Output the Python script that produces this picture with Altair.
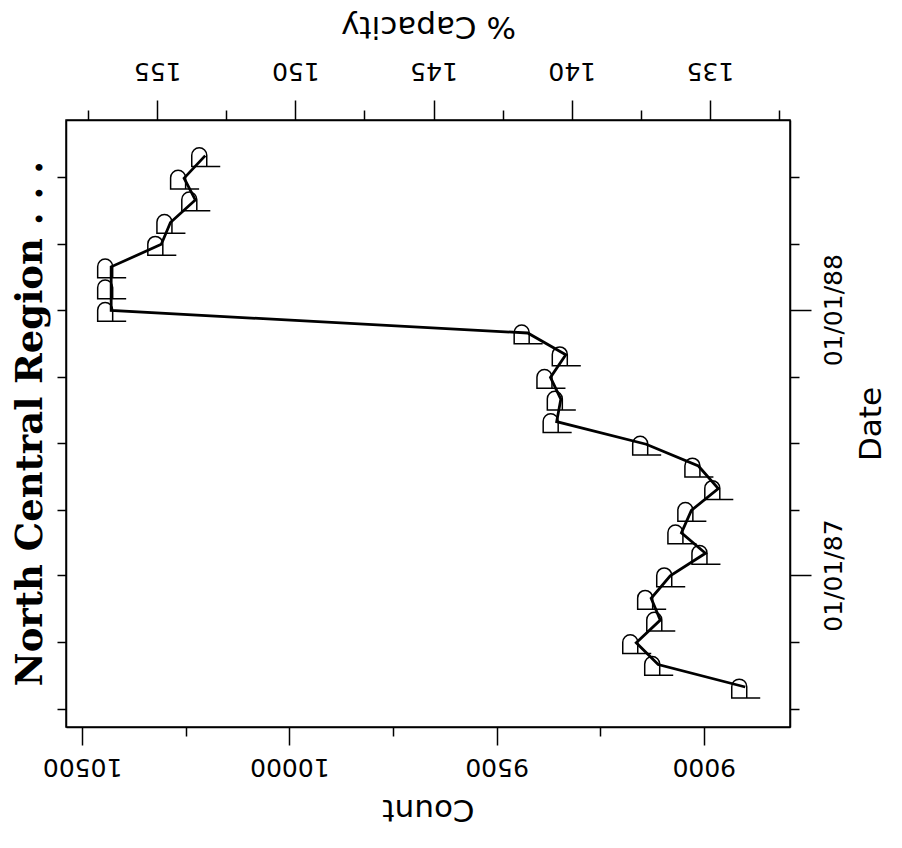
import altair as alt
import pandas as pd

# ---- data ----
dates = ["1986-07-31", "1986-08-31", "1986-09-30", "1986-10-31", "1986-11-30", "1986-12-31",
         "1987-01-31", "1987-02-28", "1987-03-31", "1987-04-30", "1987-05-31", "1987-06-30",
         "1987-07-31", "1987-08-31", "1987-09-30", "1987-10-31", "1987-11-30", "1987-12-31",
         "1988-01-31", "1988-02-29", "1988-03-31", "1988-04-30", "1988-05-31", "1988-06-30",
         "1988-07-31"]
counts = [8900, 9110, 9163, 9105, 9127, 9081,
          8996, 9054, 9030, 8965, 9013, 9139,
          9355, 9345, 9370, 9333, 9425, 10430,
          10430, 10430, 10309, 10287, 10227, 10254,
          10203]

count_ticks = [10500, 10250, 10000, 9750, 9500, 9250, 9000]
capacity_ticks = [157.5, 155, 152.5, 150, 147.5, 145, 142.5, 140, 137.5, 135, 132.5]
quarter_ticks = [(1986, 7), (1986, 10), (1987, 1), (1987, 4), (1987, 7), (1987, 10),
                 (1988, 1), (1988, 4), (1988, 7)]
count_domain = [10539, 8792]
capacity_domain = [158.3, 132.1]
date_domain = [(1986, 6, 6), (1988, 9, 18)]

df = pd.DataFrame({"date": [d + "T00:00:00" for d in dates], "count": counts})
ghost = pd.DataFrame({"date": ["1987-01-01T00:00:00", "1987-06-01T00:00:00"],
                      "cap": capacity_domain})

ydom = [alt.DateTime(year=y, month=m, date=d) for (y, m, d) in date_domain]
yvals = [alt.DateTime(year=y, month=m, date=1) for (y, m) in quarter_ticks]

AXF = "DejaVu Sans"
LBL = 25
TTL = 31

yscale = alt.Scale(domain=ydom)
xscale = alt.Scale(domain=count_domain, nice=False, zero=False)

y_right = alt.Axis(orient="right", values=yvals, title="Date", titleAngle=270,
                   titleBaseline="top",
                   labelAngle=270,
                   labelExpr="month(datum.value) == 0 ? timeFormat(datum.value, '%m/%d/%y') : ''",
                   tickSize={"condition": {"test": "month(datum.value) == 0", "value": 21}, "value": 9},
                   labelPadding=10, titlePadding=10)
x_bottom = alt.Axis(orient="bottom", values=count_ticks, title="Count", titleAngle=180,
                    titleBaseline="bottom",
                    labelAngle=180,
                    labelExpr="datum.value % 500 == 0 ? format(datum.value, 'd') : ''",
                    tickSize={"condition": {"test": "datum.value % 500 == 0", "value": 18}, "value": 9},
                    labelPadding=8, titlePadding=14)

line = alt.Chart(df).mark_line(color="black", strokeWidth=2.8).encode(
    x=alt.X("count:Q", scale=xscale, axis=x_bottom),
    y=alt.Y("date:T", scale=yscale, axis=y_right),
    order="date:T",
)

shape = "M0.2,1.45 L-1.8,1.45 L-1.8,-0.05 A1,1 0 0 1 0.2,-0.05 Z M0.2,1.45 L2,1.45"
points = alt.Chart(df).mark_point(shape=shape, size=225, filled=False, color="black",
                                  strokeWidth=1.5, opacity=1).encode(
    x=alt.X("count:Q", scale=xscale, axis=None),
    y=alt.Y("date:T", scale=yscale, axis=None),
)

x_top = alt.Axis(orient="top", values=capacity_ticks, title="% Capacity", titleAngle=180,
                 titleBaseline="top",
                 labelAngle=180,
                 labelExpr="datum.value % 5 == 0 ? format(datum.value, 'd') : ''",
                 tickSize={"condition": {"test": "datum.value % 5 == 0", "value": 20}, "value": 10},
                 labelPadding=18, titlePadding=17)
y_left = alt.Axis(orient="left", values=yvals, labels=False, title=None, tickSize=9)

ghost_layer = alt.Chart(ghost).mark_point(opacity=0).encode(
    x=alt.X("cap:Q", scale=alt.Scale(domain=capacity_domain, nice=False, zero=False), axis=x_top),
    y=alt.Y("date:T", scale=yscale, axis=y_left),
)

chart = alt.layer(line, points, ghost_layer).resolve_scale(
    x="independent"
).resolve_axis(
    x="independent", y="independent"
).properties(
    width=724, height=607,
    autosize="none",
    padding={"left": 58, "top": 112, "right": 100, "bottom": 105},
    title=alt.TitleParams("North Central Region . . .", orient="left", anchor="middle",
                          font="DejaVu Serif", fontWeight="bold", fontSize=37,
                          color="black", offset=-8),
).configure_axis(
    labelFont=AXF, labelFontSize=LBL, labelColor="black",
    titleFont=AXF, titleFontSize=TTL, titleColor="black", titleFontWeight="normal",
    domainColor="black", domainWidth=1.5, tickColor="black", tickWidth=1.5, grid=False,
).configure_view(stroke="black", strokeWidth=1.5)

chart.save("out.html", embed_options={"renderer": "svg", "actions": False})
